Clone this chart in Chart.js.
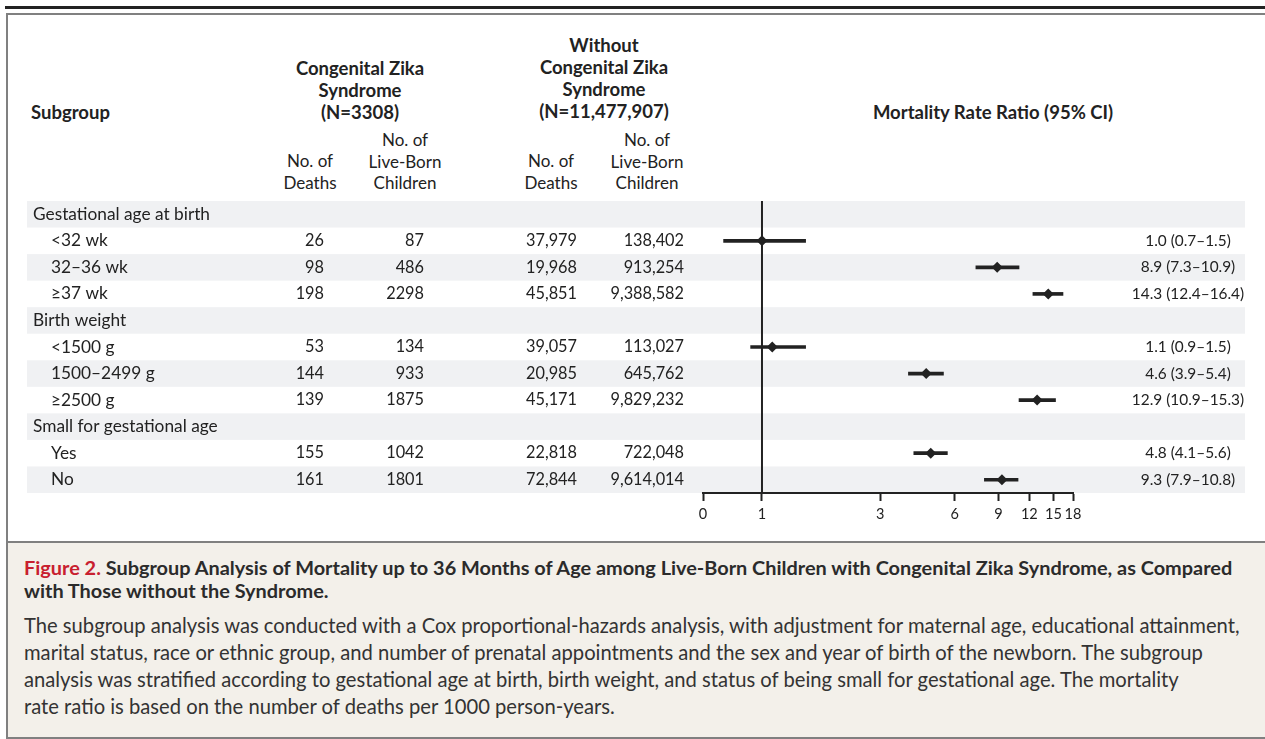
<!DOCTYPE html>
<html>
<head>
<meta charset="utf-8">
<script src="https://cdn.jsdelivr.net/npm/chart.js@4"></script>
<style>
  body { margin: 0; width: 1265px; height: 739px; overflow: hidden; background: #fff; font-family: Lato, sans-serif; color: #222; }
  .abs { position: absolute; }
  #topline { left: 5px; top: 6px; width: 1260px; height: 3px; background: #222; }
  #frame { left: 6px; top: 13px; width: 1300px; height: 726px; border: 2px solid #808080; box-sizing: border-box; }
  #caption { left: 8px; top: 541px; width: 1300px; height: 196px; border-top: 2px solid #808080; background: #f3f0ea; box-sizing: border-box; }
  .hd { font-weight: bold; font-size: 18.5px; line-height: 22px; text-align: center; white-space: nowrap; }
  .sub { font-size: 17px; line-height: 21.5px; text-align: center; white-space: nowrap; }
  #title { left: 24px; top: 556px; font-size: 19.9px; line-height: 23px; font-weight: bold; color: #2b2b2b; white-space: nowrap; }
  #title span { color: #c8202f; }
  #body { left: 24px; top: 612px; font-size: 20.2px; line-height: 27px; color: #333; white-space: nowrap; }
  canvas { position: absolute; left: 0; top: 0; }
</style>
</head>
<body>
<div id="topline" class="abs"></div>
<div id="frame" class="abs"></div>
<div id="caption" class="abs"></div>

<div class="abs hd" style="left:31px; top:101px; text-align:left;">Subgroup</div>
<div class="abs hd" style="left:260px; top:57px; width:200px;">Congenital Zika<br>Syndrome<br>(N=3308)</div>
<div class="abs hd" style="left:504px; top:34px; width:200px;">Without<br>Congenital Zika<br>Syndrome<br>(N=11,477,907)</div>
<div class="abs hd" style="left:843px; top:101px; width:300px;">Mortality Rate Ratio (95% CI)</div>

<div class="abs sub" style="left:260px; top:150px; width:100px;">No. of<br>Deaths</div>
<div class="abs sub" style="left:355px; top:129px; width:100px;">No. of<br>Live-Born<br>Children</div>
<div class="abs sub" style="left:501px; top:150px; width:100px;">No. of<br>Deaths</div>
<div class="abs sub" style="left:597px; top:129px; width:100px;">No. of<br>Live-Born<br>Children</div>

<div id="title" class="abs"><span>Figure 2.</span> Subgroup Analysis of Mortality up to 36 Months of Age among Live-Born Children with Congenital Zika Syndrome, as Compared<br>with Those without the Syndrome.</div>
<div id="body" class="abs">The subgroup analysis was conducted with a Cox proportional-hazards analysis, with adjustment for maternal age, educational attainment,<br>marital status, race or ethnic group, and number of prenatal appointments and the sex and year of birth of the newborn. The subgroup<br>analysis was stratified according to gestational age at birth, birth weight, and status of being small for gestational age. The mortality<br>rate ratio is based on the number of deaths per 1000 person-years.</div>

<canvas id="forest" width="1265" height="539"></canvas>

<script>
const rowLabels = ['Gestational age at birth', '<32 wk', '32–36 wk', '≥37 wk', 'Birth weight', '<1500 g', '1500–2499 g', '≥2500 g', 'Small for gestational age', 'Yes', 'No'];
const isGroup = [true, false, false, false, true, false, false, false, true, false, false];

const deathsCzs = [null, 26, 98, 198, null, 53, 144, 139, null, 155, 161];
const liveCzs = [null, 87, 486, 2298, null, 134, 933, 1875, null, 1042, 1801];
const deathsOther = [null, 37979, 19968, 45851, null, 39057, 20985, 45171, null, 22818, 72844];
const liveOther = [null, 138402, 913254, 9388582, null, 113027, 645762, 9829232, null, 722048, 9614014];

const ratio = [null, 1.0, 8.9, 14.3, null, 1.1, 4.6, 12.9, null, 4.8, 9.3];
const lower = [null, 0.7, 7.3, 12.4, null, 0.9, 3.9, 10.9, null, 4.1, 7.9];
const upper = [null, 1.5, 10.9, 16.4, null, 1.5, 5.4, 15.3, null, 5.6, 10.8];

const axisMin = 0.578;   // left end of the axis, labelled "0"
const axisMax = 18;
const tickValues = [1, 3, 6, 9, 12, 15, 18];

const ink = '#222';
const labelFont = '17.3px Lato, sans-serif';
const numFont = '16.3px Lato, sans-serif';
const ciFont = '15.4px Lato, sans-serif';

// journal style: no comma in 4-digit numbers
function fmt(n) {
  return n < 10000 ? String(n) : n.toLocaleString('en-US');
}

function ciText(i) {
  return `${ratio[i].toFixed(1)} (${lower[i].toFixed(1)}–${upper[i].toFixed(1)})`;
}

const decor = {
  id: 'decor',
  beforeDraw(chart) {
    const { ctx } = chart;
    const y = chart.scales.y;
    const h = y.getPixelForValue(1) - y.getPixelForValue(0);
    ctx.save();
    ctx.fillStyle = '#f0f1f3';
    rowLabels.forEach((_, i) => {
      if (i % 2 === 0) {
        const c = y.getPixelForValue(i);
        ctx.fillRect(27, c - h / 2, 1245 - 27, h);
      }
    });
    ctx.restore();
  },
  beforeDatasetsDraw(chart) {
    const { ctx, chartArea } = chart;
    const x1 = chart.scales.x.getPixelForValue(1);
    ctx.save();
    ctx.strokeStyle = ink;
    ctx.lineWidth = 2;
    ctx.beginPath();
    ctx.moveTo(x1, chartArea.top);
    ctx.lineTo(x1, chartArea.bottom);
    ctx.stroke();
    ctx.restore();
  },
  afterDraw(chart) {
    const { ctx } = chart;
    const y = chart.scales.y;
    ctx.save();
    ctx.fillStyle = ink;
    ctx.textBaseline = 'middle';
    rowLabels.forEach((label, i) => {
      const c = y.getPixelForValue(i);
      ctx.font = labelFont;
      ctx.textAlign = 'left';
      ctx.fillText(label, isGroup[i] ? 33 : 51, c);
      if (isGroup[i]) return;
      ctx.font = numFont;
      ctx.textAlign = 'right';
      ctx.fillText(fmt(deathsCzs[i]), 324, c);
      ctx.fillText(fmt(liveCzs[i]), 424, c);
      ctx.fillText(fmt(deathsOther[i]), 577, c);
      ctx.fillText(fmt(liveOther[i]), 684, c);
      ctx.font = ciFont;
      ctx.textAlign = 'center';
      ctx.fillText(ciText(i), 1188, c);
    });
    ctx.restore();
  }
};

new Chart(document.getElementById('forest'), {
  type: 'bar',
  data: {
    labels: rowLabels,
    datasets: [
      {
        type: 'bar',
        data: rowLabels.map((_, i) => lower[i] == null ? null : [lower[i], upper[i]]),
        backgroundColor: ink,
        borderWidth: 0,
        barThickness: 3
      },
      {
        type: 'scatter',
        data: rowLabels.map((l, i) => ratio[i] == null ? null : { x: ratio[i], y: l }).filter(p => p),
        pointStyle: 'rectRot',
        pointRadius: 5.5,
        backgroundColor: ink,
        borderWidth: 0
      }
    ]
  },
  options: {
    indexAxis: 'y',
    responsive: false,
    animation: false,
    layout: { padding: { left: 703, right: 192, top: 201, bottom: 0 } },
    plugins: { legend: { display: false }, tooltip: { enabled: false } },
    scales: {
      y: { type: 'category', display: false, offset: true },
      x: {
        type: 'logarithmic',
        min: axisMin,
        max: axisMax,
        afterBuildTicks: s => { s.ticks = [axisMin, ...tickValues].map(v => ({ value: v })); },
        afterFit: s => { s.height = 46; },
        ticks: {
          autoSkip: false,
          maxRotation: 0,
          padding: 5,
          color: ink,
          font: { family: 'Lato', size: 14.5 },
          callback: v => v === axisMin ? '0' : String(v)
        },
        grid: { drawOnChartArea: false, tickLength: 8, tickWidth: 2, tickColor: ink },
        border: { display: true, color: ink, width: 2 }
      }
    }
  },
  plugins: [decor]
});
</script>
</body>
</html>
